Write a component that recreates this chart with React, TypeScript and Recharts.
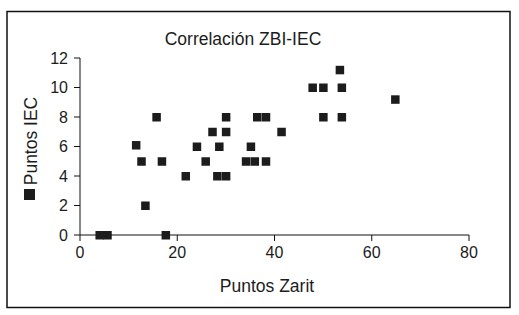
import React from 'react';
import {
  ScatterChart,
  Scatter,
  XAxis,
  YAxis,
  Customized
} from 'recharts';

// Puntos Zarit (x) e IEC (y)
const zaritScores = [4, 5.6, 11.5, 12.6, 13.4, 15.7, 16.8, 17.6, 21.7, 24, 25.8, 27.2, 28.2, 28.6, 30, 30, 30, 34.1, 35.1, 35.9, 36.4, 38.2, 38.2, 41.4, 47.8, 50, 50, 53.4, 53.8, 53.8, 64.8];
const iecScores = [0, 0, 6.1, 5, 2, 8, 5, 0, 4, 6, 5, 7, 4, 6, 8, 7, 4, 5, 6, 5, 8, 8, 5, 7, 10, 10, 8, 11.2, 10, 8, 9.2];

const xTicks = [0, 20, 40, 60, 80];
const yTicks = [0, 2, 4, 6, 8, 10, 12];

const chartTitle = 'Correlación ZBI-IEC';
const xLabel = 'Puntos Zarit';
const yLabel = 'Puntos IEC';

const points = zaritScores.map((x, i) => ({ x, y: iecScores[i] }));

const FONT = '"Liberation Sans", Arial, Helvetica, sans-serif';
const INK = '#1c1c1c';

const SquareDot = (props: any) => {
  const { cx, cy } = props;
  return <rect x={cx - 4} y={cy - 4} width={8.5} height={8.5} fill={INK} />;
};

const Frame = () => (
  <g>
    <rect x={7} y={11.5} width={503} height={296} fill="none" stroke="#111" strokeWidth={1.5} />
    <text x={243} y={45} textAnchor="middle" fontFamily={FONT} fontSize={17.5} fill={INK}>
      {chartTitle}
    </text>
    <text x={267} y={292} textAnchor="middle" fontFamily={FONT} fontSize={17.5} fill={INK}>
      {xLabel}
    </text>
    <rect x={24} y={189} width={11} height={11} fill={INK} />
    <text
      x={0}
      y={0}
      transform="translate(37,141) rotate(-90)"
      textAnchor="middle"
      fontFamily={FONT}
      fontSize={17.5}
      fill={INK}
    >
      {yLabel}
    </text>
  </g>
);

export default function App() {
  return (
    <div style={{ position: 'absolute', left: 0, top: 0, background: '#fff' }}>
      <ScatterChart width={519} height={315} margin={{ top: 58, right: 50, bottom: 0, left: 0 }}>
        <XAxis
          type="number"
          dataKey="x"
          domain={[0, 80]}
          ticks={xTicks}
          height={80}
          tickSize={6}
          tickMargin={6}
          stroke="#111"
          tick={{ fill: INK, fontSize: 16, fontFamily: FONT }}
        />
        <YAxis
          type="number"
          dataKey="y"
          domain={[0, 12]}
          ticks={yTicks}
          width={80}
          tickSize={6}
          tickMargin={6}
          stroke="#111"
          tick={{ fill: INK, fontSize: 16, fontFamily: FONT }}
        />
        <Scatter data={points} fill={INK} shape={SquareDot} isAnimationActive={false} />
        <Customized component={Frame} />
      </ScatterChart>
    </div>
  );
}
